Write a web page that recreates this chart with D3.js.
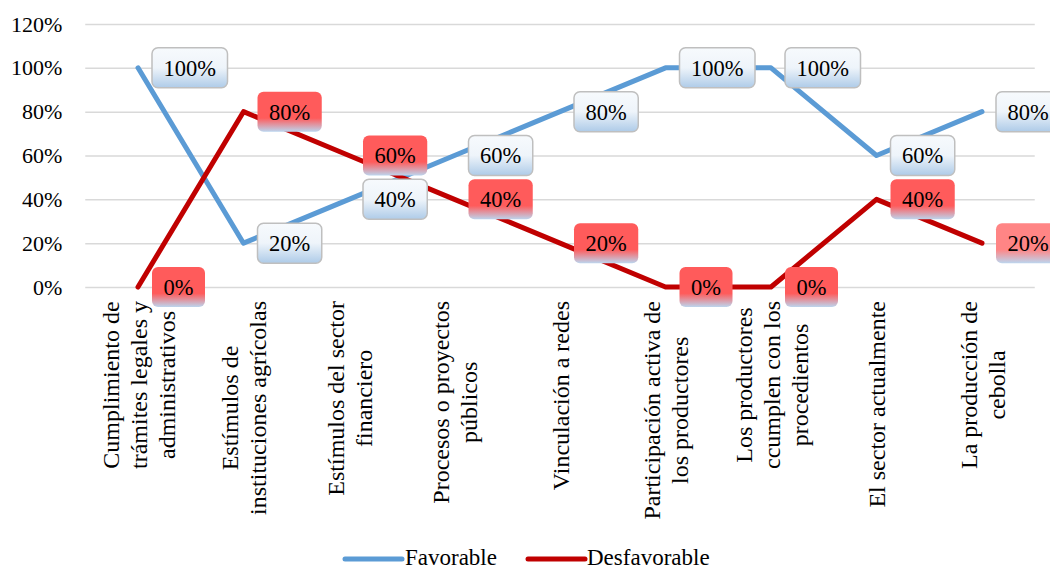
<!DOCTYPE html>
<html>
<head>
<meta charset="utf-8">
<script src="https://cdn.jsdelivr.net/npm/d3@7"></script>
<style>
  html, body { margin: 0; padding: 0; background: #fff; }
  svg { display: block; }
  text { font-family: "Liberation Serif", "Times New Roman", serif; fill: #000; }
</style>
</head>
<body>
<svg id="chart" width="1050" height="570"></svg>
<script>
// Category labels (line breaks as shown under the axis)
const categories = [
  "Cumplimiento de\ntrámites legales y\nadministrativos",
  "Estímulos de\ninstituciones agrícolas",
  "Estímulos del sector\nfinanciero",
  "Procesos o proyectos\npúblicos",
  "Vinculación a redes",
  "Participación activa de\nlos productores",
  "Los productores\nccumplen con los\nprocedientos",
  "El sector actualmente",
  "La producción de\ncebolla"
];
const seriesNames = ["Favorable", "Desfavorable"];
const favorable    = [1.00, 0.20, 0.40, 0.60, 0.80, 1.00, 1.00, 0.60, 0.80];
const desfavorable = [0.00, 0.80, 0.60, 0.40, 0.20, 0.00, 0.00, 0.40, 0.20];
const yTicks = [0, 0.2, 0.4, 0.6, 0.8, 1.0, 1.2];
const lineColors = ["#5b9bd5", "#c00000"];

const svg = d3.select("#chart");
const plot = { left: 85.25, right: 1034.75, top: 24, bottom: 287 };

const x = d3.scaleBand().domain(d3.range(categories.length))
  .range([plot.left, plot.right]).padding(0);
const cx = i => x(i) + x.bandwidth() / 2;
const y = d3.scaleLinear().domain([0, 1.2]).range([plot.bottom, plot.top]);

// Gradients for the value boxes
const defs = svg.append("defs");
function grad(id, stops) {
  const g = defs.append("linearGradient").attr("id", id)
    .attr("x1", 0).attr("y1", 0).attr("x2", 0).attr("y2", 1);
  stops.forEach(s => g.append("stop").attr("offset", s[0]).attr("stop-color", s[1]));
}
grad("gFav", [[0, "#f7fafd"], [0.5, "#eef4fa"], [1, "#aecbe8"]]);
grad("gDes", [[0, "#ff5b5b"], [0.66, "#ff5b5b"], [1, "#bcd5ee"]]);
grad("gDesLight", [[0, "#ff8585"], [0.66, "#ff8585"], [1, "#bcd5ee"]]);

// Horizontal gridlines
svg.append("g")
  .attr("transform", `translate(${plot.left},0)`)
  .call(d3.axisLeft(y).tickValues(yTicks).tickSize(-(plot.right - plot.left)).tickFormat(""))
  .call(g => g.select(".domain").remove())
  .call(g => g.selectAll(".tick line").attr("stroke", "#d9d9d9").attr("stroke-width", 1.5));

// Y tick labels
svg.append("g")
  .attr("transform", `translate(${plot.left},0)`)
  .call(d3.axisLeft(y).tickValues(yTicks).tickSize(0).tickPadding(23).tickFormat(d3.format(".0%")))
  .call(g => g.select(".domain").remove())
  .call(g => g.selectAll("text")
    .style("font-family", "'Liberation Serif', 'Times New Roman', serif")
    .style("font-size", "22px").attr("fill", "#000"));

// Category labels, rotated and wrapped
const xAxis = svg.append("g")
  .attr("transform", `translate(0,${plot.bottom})`)
  .call(d3.axisBottom(d3.scalePoint().domain(d3.range(categories.length)).range([cx(0), cx(categories.length - 1)]))
    .tickSize(0).tickFormat(""))
  .call(g => g.select(".domain").remove());

const lh = 28;
xAxis.selectAll(".tick").each(function (d) {
  const lines = categories[d].split("\n");
  const t = d3.select(this).append("text")
    .attr("transform", "rotate(-90)")
    .style("font-size", "24px")
    .attr("text-anchor", "middle");
  const spans = lines.map((ln, i) => t.append("tspan")
    .attr("y", (i - (lines.length - 1) / 2) * lh)
    .attr("dy", "0.35em")
    .text(ln));
  const maxLen = d3.max(spans, s => s.node().getComputedTextLength());
  spans.forEach(s => s.attr("x", -(14 + maxLen / 2)));
});

// Series lines
const series = [favorable, desfavorable];
const line = d3.line().x((d, i) => cx(i)).y(d => y(d));
series.forEach((vals, k) => {
  svg.append("path")
    .datum(vals)
    .attr("d", line)
    .attr("fill", "none")
    .attr("stroke", lineColors[k])
    .attr("stroke-width", 5)
    .attr("stroke-linejoin", "round")
    .attr("stroke-linecap", "round");
});

// Value boxes to the right of each point
const fmt = d3.format(".0%");
const boxH = 40, pad = 11.5, offset = 14;
series.forEach((vals, k) => {
  const g = svg.append("g");
  vals.forEach((v, i) => {
    const bx = cx(i) + offset, by = y(v);
    const grp = g.append("g");
    const rect = grp.append("rect");
    const txt = grp.append("text")
      .attr("x", bx + pad)
      .attr("y", by)
      .attr("dy", "0.35em")
      .style("font-size", "22.5px")
      .text(fmt(v));
    const w = txt.node().getComputedTextLength() + pad * 2;
    rect.attr("x", bx).attr("y", by - boxH / 2)
      .attr("width", w).attr("height", boxH)
      .attr("rx", 6).attr("ry", 6);
    if (k === 0) {
      rect.attr("fill", "url(#gFav)").attr("stroke", "#bfbfbf").attr("stroke-width", 1.5);
    } else {
      rect.attr("fill", i === vals.length - 1 ? "url(#gDesLight)" : "url(#gDes)");
    }
  });
});

// Legend
const legend = svg.append("g");
const legendItems = [
  { x0: 345, x1: 402, tx: 405 },
  { x0: 528, x1: 585, tx: 587 }
];
seriesNames.forEach((name, k) => {
  const it = legendItems[k];
  legend.append("line")
    .attr("x1", it.x0).attr("x2", it.x1).attr("y1", 559).attr("y2", 559)
    .attr("stroke", lineColors[k]).attr("stroke-width", 5).attr("stroke-linecap", "round");
  legend.append("text")
    .attr("x", it.tx).attr("y", 565)
    .style("font-size", "23px")
    .text(name);
});
</script>
</body>
</html>
